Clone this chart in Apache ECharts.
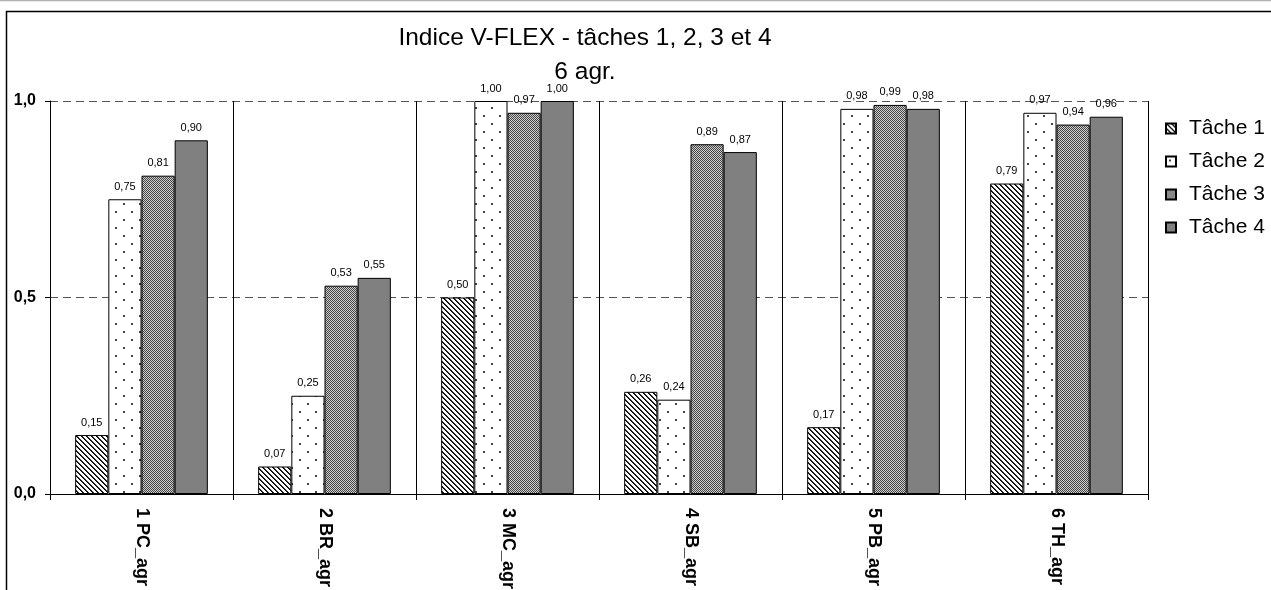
<!DOCTYPE html>
<html>
<head>
<meta charset="utf-8">
<script src="https://cdn.jsdelivr.net/npm/echarts@6/dist/echarts.min.js"></script>
<style>
html,body{margin:0;padding:0;background:#fff;}
#c{width:1271px;height:590px;}
</style>
</head>
<body>
<div id="c"></div>
<script>
const categories = ['1 PC_agr', '2 BR_agr', '3 MC_agr', '4 SB_agr', '5 PB_agr', '6 TH_agr'];
const seriesNames = ['Tâche 1', 'Tâche 2', 'Tâche 3', 'Tâche 4'];
const tache1 = [0.15, 0.07, 0.50, 0.26, 0.17, 0.79];
const tache2 = [0.75, 0.25, 1.00, 0.24, 0.98, 0.97];
const tache3 = [0.81, 0.53, 0.97, 0.89, 0.99, 0.94];
const tache4 = [0.90, 0.55, 1.00, 0.87, 0.98, 0.96];
const titleLines = ['Indice V-FLEX - tâches 1, 2, 3 et 4', '6 agr.'];

const FONT = '"Liberation Sans", Arial, sans-serif';

function makeCanvas(w, h, draw) {
  const c = document.createElement('canvas');
  c.width = w; c.height = h;
  const ctx = c.getContext('2d');
  draw(ctx);
  return c;
}
// diagonal stripes "\"
const stripes = makeCanvas(5, 5, ctx => {
  ctx.fillStyle = '#fff'; ctx.fillRect(0, 0, 5, 5);
  for (let y = 0; y < 5; y++) {
    for (let x = 0; x < 5; x++) {
      const d = ((x - y) % 5 + 5) % 5;
      if (d === 0) { ctx.fillStyle = '#000'; ctx.fillRect(x, y, 1, 1); }
      else if (d === 1) { ctx.fillStyle = '#333'; ctx.fillRect(x, y, 1, 1); }
    }
  }
});
// sparse staggered dots
const dots = makeCanvas(16, 16, ctx => {
  ctx.fillStyle = '#fff'; ctx.fillRect(0, 0, 16, 16);
  ctx.fillStyle = '#444';
  ctx.fillRect(3, 3, 2, 2);
  ctx.fillRect(11, 11, 2, 2);
});
// fine checker
const checker = makeCanvas(2, 2, ctx => {
  ctx.fillStyle = '#cfcfcf'; ctx.fillRect(0, 0, 2, 2);
  ctx.fillStyle = '#444';
  ctx.fillRect(0, 0, 1, 1);
  ctx.fillRect(1, 1, 1, 1);
});

const fills = [
  { image: stripes, repeat: 'repeat' },
  { image: dots, repeat: 'repeat' },
  { image: checker, repeat: 'repeat' },
  '#808080'
];
const dataSets = [tache1, tache2, tache3, tache4];

const fmt2 = v => v.toFixed(2).replace('.', ',');

const series = dataSets.map((d, i) => ({
  name: seriesNames[i],
  type: 'bar',
  data: d,
  barGap: '0%',
  barCategoryGap: '27.5%',
  itemStyle: { color: fills[i], borderColor: '#000', borderWidth: 1 },
  label: {
    show: true,
    position: 'top',
    distance: 7,
    color: '#000',
    fontFamily: FONT,
    fontSize: 11,
    formatter: p => fmt2(p.value)
  },
  emphasis: { disabled: true },
  animation: false
}));

const chart = echarts.init(document.getElementById('c'), null, { renderer: 'canvas' });
chart.setOption({
  backgroundColor: '#fff',
  animation: false,
  grid: { left: 50, right: 123, top: 101, bottom: 96, containLabel: false, outerBoundsMode: 'none' },
  legend: {
    orient: 'vertical',
    left: 1160,
    top: 113,
    itemWidth: 10,
    itemHeight: 10,
    itemGap: 12,
    icon: 'rect',
    data: seriesNames,
    textStyle: { fontFamily: FONT, fontSize: 21, color: '#000', lineHeight: 21, padding: [0, 0, 0, 8] }
  },
  xAxis: {
    type: 'category',
    data: categories,
    boundaryGap: true,
    axisLine: { show: true, lineStyle: { color: '#000', width: 1 } },
    axisTick: { show: true, length: 6, lineStyle: { color: '#000' } },
    splitLine: { show: true, lineStyle: { color: '#000', width: 1 } },
    axisLabel: {
      rotate: -90,
      margin: 14,
      color: '#000',
      fontFamily: FONT,
      fontSize: 18,
      fontWeight: 'bold'
    }
  },
  yAxis: {
    type: 'value',
    min: 0,
    max: 1,
    interval: 0.5,
    axisLine: { show: true, lineStyle: { color: '#000', width: 1 } },
    axisTick: { show: true, length: 5, lineStyle: { color: '#000' } },
    splitLine: { show: true, lineStyle: { color: '#555', width: 1, type: [8, 5] } },
    axisLabel: {
      margin: 14,
      color: '#000',
      fontFamily: FONT,
      fontSize: 16,
      fontWeight: 'bold',
      formatter: v => v.toFixed(1).replace('.', ',')
    }
  },
  graphic: [
    { type: 'line', shape: { x1: 0, y1: 0.5, x2: 1271, y2: 0.5 }, style: { stroke: '#b0b0b0', lineWidth: 1.5 }, silent: true },
    { type: 'rect', shape: { x: 6.5, y: 11.5, width: 1300, height: 620 }, style: { fill: 'none', stroke: '#000', lineWidth: 1.5 }, silent: true, z: 100 },
    { type: 'text', x: 585, y: 38, style: { text: titleLines[0], fontFamily: FONT, fontSize: 24.5, fill: '#000', align: 'center', verticalAlign: 'middle' }, silent: true },
    { type: 'text', x: 585, y: 72, style: { text: titleLines[1], fontFamily: FONT, fontSize: 24.5, fill: '#000', align: 'center', verticalAlign: 'middle' }, silent: true }
  ],
  series: series
});
</script>
</body>
</html>
